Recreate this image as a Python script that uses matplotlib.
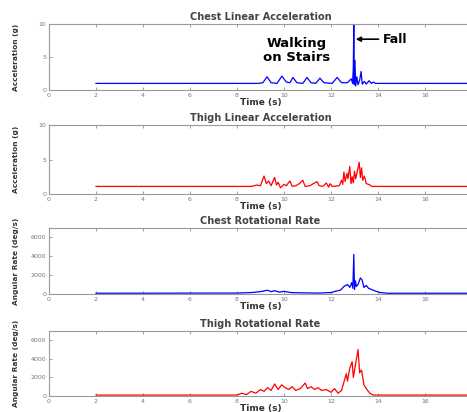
import matplotlib
matplotlib.use('Agg')
import matplotlib.pyplot as plt

# Chest linear acceleration (g)
chest_lin_t = [2.0, 8.9, 9.1, 9.28, 9.45, 9.7, 9.91, 10.1, 10.25, 10.38, 10.55, 10.8,
               10.98, 11.15, 11.35, 11.53, 11.7, 12.05, 12.26, 12.45, 12.7, 12.86, 12.92,
               12.95, 12.97, 12.99, 13.02, 13.05, 13.1, 13.15, 13.22, 13.28, 13.33, 13.42,
               13.5, 13.62, 13.72, 13.8, 13.9, 17.9]
chest_lin_v = [1.0, 1.0, 1.1, 2.0, 1.1, 1.0, 2.1, 1.2, 1.1, 1.9, 1.1, 1.0,
               1.9, 1.1, 1.0, 1.8, 1.1, 1.0, 1.9, 1.1, 1.1, 1.7, 1.0,
               3.5, 10.0, 0.8, 4.5, 0.6, 2.0, 0.8, 1.5, 2.8, 0.9, 1.3,
               0.9, 1.4, 1.0, 1.2, 1.0, 1.0]

# Thigh linear acceleration (g)
thigh_lin_t = [2.0, 8.6, 8.85, 9.0, 9.15, 9.25, 9.35, 9.45, 9.6, 9.68, 9.75, 9.85,
               10.0, 10.1, 10.25, 10.35, 10.5, 10.65, 10.8, 10.9, 11.1, 11.4, 11.5,
               11.65, 11.8, 11.9, 11.96, 12.05, 12.35, 12.45, 12.5, 12.55, 12.6, 12.68,
               12.72, 12.8, 12.85, 12.9, 12.95, 13.0, 13.05, 13.1, 13.2, 13.25, 13.3,
               13.35, 13.42, 13.5, 13.6, 13.75, 17.9]
thigh_lin_v = [1.1, 1.1, 1.3, 1.2, 2.6, 1.5, 1.9, 1.2, 2.4, 1.3, 1.7, 0.9,
               1.4, 1.2, 1.9, 1.1, 1.2, 1.5, 2.0, 1.1, 1.2, 1.8, 1.2,
               1.1, 1.6, 1.0, 1.5, 1.1, 1.2, 2.0, 1.4, 3.2, 1.8, 3.0,
               2.2, 4.0, 1.5, 2.5, 1.6, 3.3, 2.2, 3.0, 4.6, 2.4, 3.8,
               2.0, 2.6, 1.5, 1.4, 1.1, 1.1]

# Chest rotational rate (deg/s)
chest_rot_t = [2.0, 8.0, 8.6, 9.0, 9.3, 9.45, 9.6, 9.8, 10.0, 10.3, 10.8, 11.5,
               12.0, 12.2, 12.4, 12.55, 12.7, 12.8, 12.88, 12.93, 12.97, 13.0, 13.04,
               13.08, 13.15, 13.25, 13.32, 13.4, 13.5, 13.6, 13.75, 13.9, 14.1, 14.4, 17.9]
chest_rot_v = [80, 100, 150, 250, 400, 250, 350, 200, 280, 150, 120, 100,
               150, 300, 400, 800, 1000, 700, 1200, 600, 4200, 500, 1400,
               800, 1000, 1700, 1500, 700, 900, 600, 450, 300, 150, 80, 80]

# Thigh rotational rate (deg/s)
thigh_rot_t = [2.0, 8.0, 8.2, 8.4, 8.6, 8.8, 9.0, 9.15, 9.3, 9.45, 9.6, 9.75,
               9.9, 10.05, 10.2, 10.35, 10.5, 10.7, 10.9, 11.0, 11.15, 11.3, 11.45,
               11.6, 11.8, 12.0, 12.15, 12.3, 12.45, 12.55, 12.65, 12.7, 12.8, 12.9,
               12.95, 13.05, 13.15, 13.22, 13.3, 13.4, 13.5, 13.65, 13.8, 17.9]
thigh_rot_v = [100, 100, 300, 150, 500, 300, 700, 500, 900, 600, 1300, 700,
               1200, 900, 700, 1000, 600, 800, 1400, 800, 1000, 700, 900,
               600, 700, 400, 800, 300, 600, 1500, 2400, 1600, 3000, 3700,
               2000, 3500, 5000, 2500, 2800, 1200, 800, 300, 100, 100]

titles = ['Chest Linear Acceleration', 'Thigh Linear Acceleration',
          'Chest Rotational Rate', 'Thigh Rotational Rate']
ylabels = ['Acceleration (g)', 'Acceleration (g)',
           'Angular Rate (deg/s)', 'Angular Rate (deg/s)']
series = [(chest_lin_t, chest_lin_v, 'b'), (thigh_lin_t, thigh_lin_v, 'r'),
          (chest_rot_t, chest_rot_v, 'b'), (thigh_rot_t, thigh_rot_v, 'r')]
x_ticks = [0, 2, 4, 6, 8, 10, 12, 14, 16]
lin_ticks = [0, 5, 10]
rot_ticks = [0, 2000, 4000, 6000]

W, H = 467, 412
fig = plt.figure(figsize=(W / 100, H / 100), dpi=100)

# axes boxes in pixels: (top, bottom)
boxes = [(24, 90), (125, 194), (228, 294), (331, 396)]
left_px, width_px = 49, 423

for i, ((top, bot), (t, v, c)) in enumerate(zip(boxes, series)):
    ax = fig.add_axes([left_px / W, 1 - bot / H, width_px / W, (bot - top) / H])
    ax.plot(t, v, color=c, lw=0.9)
    ax.set_xlim(0, 18)
    ax.set_xticks(x_ticks)
    if i < 2:
        ax.set_ylim(0, 10)
        ax.set_yticks(lin_ticks)
    else:
        ax.set_ylim(0, 7000)
        ax.set_yticks(rot_ticks)
    ax.set_title(titles[i], fontsize=7, fontweight='bold', color='#444444', pad=3)
    ax.set_xlabel('Time (s)', fontsize=6.5, fontweight='bold', color='#333333', labelpad=0)
    ax.set_ylabel(ylabels[i], fontsize=5.3, fontweight='bold', color='#333333')
    ax.yaxis.set_label_coords(-0.072, 0.5)
    ax.tick_params(direction='in', length=2, width=0.5, labelsize=4.5,
                   colors='#777777', top=True, right=True, pad=2)
    for s in ax.spines.values():
        s.set_color('#999999')
        s.set_linewidth(0.8)
    if i == 0:
        ax.text(10.55, 6.0, 'Walking\non Stairs', fontsize=9.5, fontweight='bold',
                ha='center', va='center', linespacing=1.1)
        ax.annotate('Fall', xy=(13.05, 7.7), xytext=(14.2, 7.7), fontsize=9,
                    fontweight='bold', va='center', ha='left',
                    arrowprops=dict(arrowstyle='-|>', color='black', lw=1.2,
                                    mutation_scale=7, shrinkA=1, shrinkB=0))

fig.savefig('out.png', dpi=100)
